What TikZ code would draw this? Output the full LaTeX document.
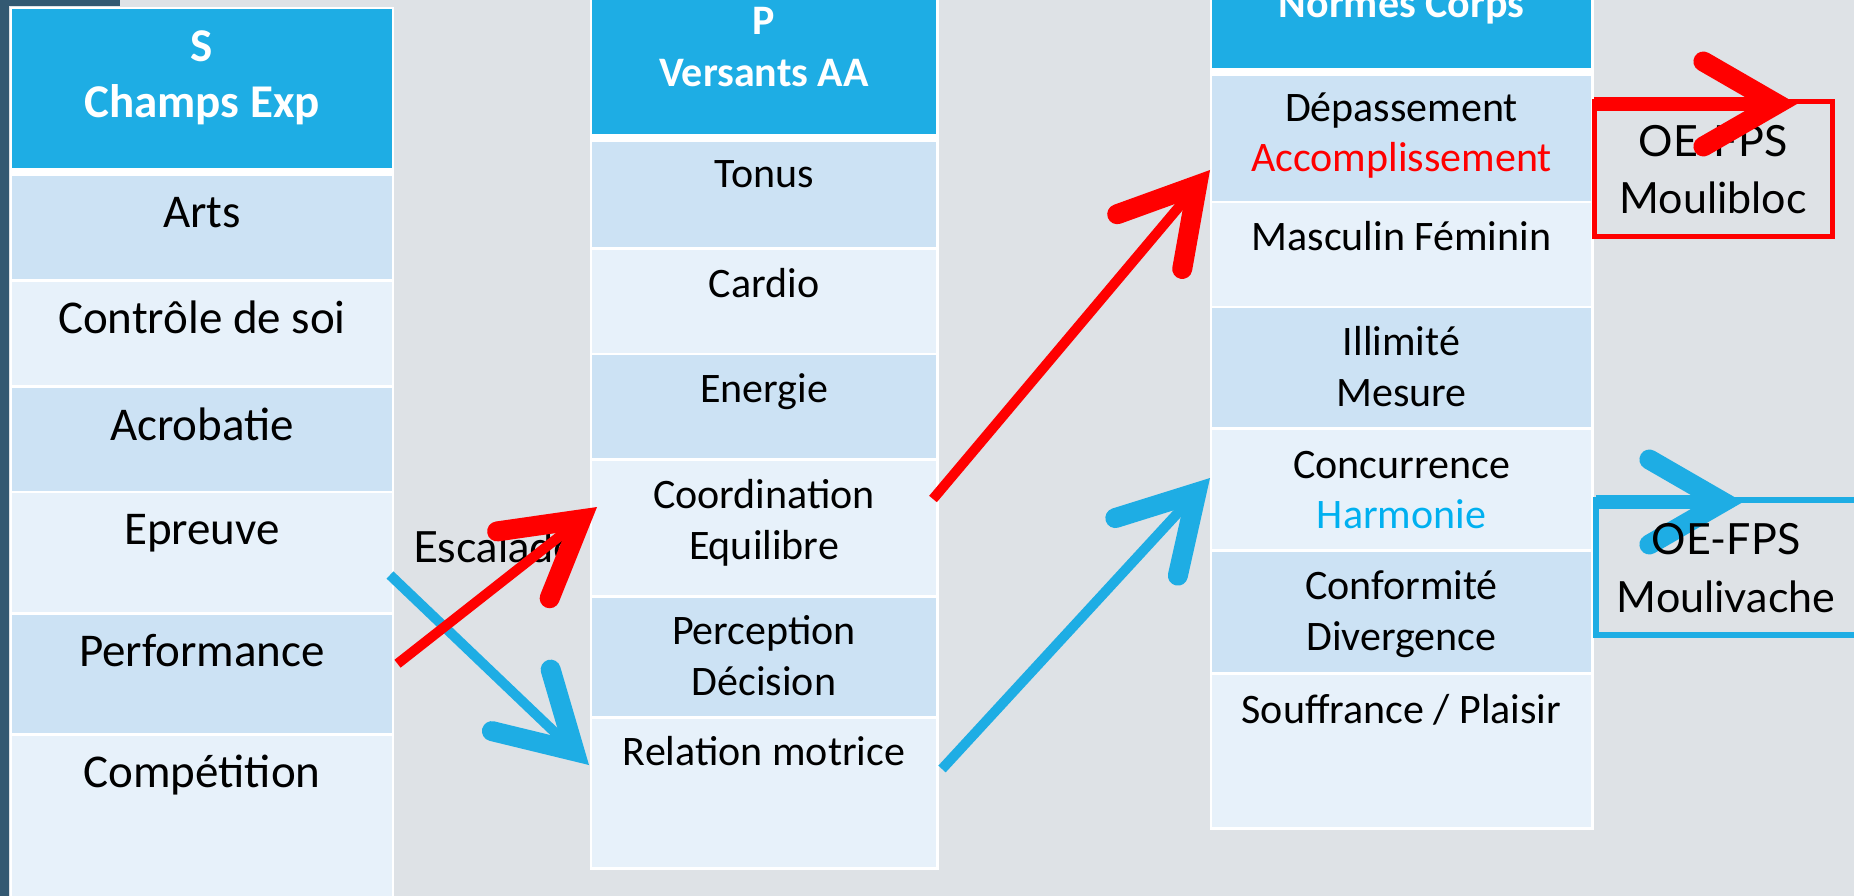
\documentclass[tikz,border=0pt]{standalone}
\usepackage{fontspec}
\setmainfont{Carlito}
\newfontfamily\gillfont{Lato}
\usetikzlibrary{calc,fit}
\definecolor{bg}{RGB}{222,226,230}
\definecolor{darkstrip}{RGB}{51,89,114}
\definecolor{hdrblue}{RGB}{30,173,228}
\definecolor{rowdark}{RGB}{204,226,244}
\definecolor{rowlight}{RGB}{231,241,250}
\definecolor{pptred}{RGB}{255,0,0}
\definecolor{pptblue}{RGB}{30,173,228}
\definecolor{harm}{RGB}{0,176,240}
\newcommand\pptarrow[4]{%
  \coordinate (V) at ($(#3)!20pt!(#2)$);
  \draw[#1, line width=#4] (#2) -- (V);
  \draw[#1, line width=20pt, line cap=round, line join=miter]
    ($(V)!85pt!30:(#2)$) -- (V) -- ($(V)!85pt!-30:(#2)$);
}
\begin{document}
\begin{tikzpicture}[x=1pt,y=-1pt,
  cellbox/.style={inner sep=0pt, outer sep=0pt},
  hdr/.style={cellbox, fill=hdrblue},
  rowA/.style={cellbox, fill=rowdark},
  rowB/.style={cellbox, fill=rowlight},
  frame/.style={cellbox, fill=white},
  ta/.style={anchor=base, inner sep=0pt, font=\fontsize{47}{56}\selectfont},
  tha/.style={ta, text=white, font=\bfseries\fontsize{47}{56}\selectfont},
  tb/.style={anchor=base, inner sep=0pt, font=\fontsize{42}{50}\selectfont},
  thb/.style={tb, text=white, font=\bfseries\fontsize{42}{50}\selectfont},
  gtxt/.style={anchor=base, inner sep=0pt, font={\gillfont\fontsize{43}{50}\selectfont}},
  obox/.style={cellbox, line width=5pt}
]
\useasboundingbox (0,0) rectangle (1854,896);
\clip (0,0) rectangle (1854,896);
\fill[bg] (0,0) rectangle (1854,896);
\fill[darkstrip] (0,0) rectangle (9,896);
\fill[darkstrip] (0,0) rectangle (120,6);

% column 1
\node[frame, fit={(10,7) (394,900)}] (frame1) {};
\node[hdr, fit={(12,9.5) (392,168.5)}] (c1h) {};
\node[rowA, fit={(12,176) (392,279)}] (arts) {};
\node[rowB, fit={(12,281.5) (392,385)}] (ctrl) {};
\node[rowA, fit={(12,388) (392,490.5)}] (acro) {};
\node[rowB, fit={(12,492.5) (392,612)}] (epr) {};
\node[rowA, fit={(12,614.5) (392,733)}] (perf) {};
\node[rowB, fit={(12,735.5) (392,900)}] (comp) {};
\node[tha] (t1a) at (202,62) {S};
\node[tha] (t1b) at (202,118) {Champs Exp};
\node[ta] (tarts) at (202,227) {Arts};
\node[ta] (tctrl) at (202,333) {Contrôle de soi};
\node[ta] (tacro) at (202,440) {Acrobatie};
\node[ta] (tepr) at (202,544) {Epreuve};
\node[ta] (tperf) at (202,666) {Performance};
\node[ta] (tcomp) at (202,787) {Compétition};

% column 2
\node[frame, fit={(589.5,-60) (938.5,869.5)}] (frame2) {};
\node[hdr, fit={(592,-60) (936,134)}] (c2h) {};
\node[rowA, fit={(592,142) (936,247)}] (tonus) {};
\node[rowB, fit={(592,249.5) (936,352.5)}] (cardio) {};
\node[rowA, fit={(592,355) (936,458)}] (energ) {};
\node[rowB, fit={(592,460.5) (936,595)}] (coord) {};
\node[rowA, fit={(592,597.5) (936,716)}] (perc) {};
\node[rowB, fit={(592,718.5) (936,867)}] (rel) {};
\node[thb] (t2a) at (764,35) {P};
\node[thb] (t2b) at (764,87) {Versants AA};
\node[tb] (ttonus) at (764,188) {Tonus};
\node[tb] (tcardio) at (764,297) {Cardio};
\node[tb] (tenerg) at (764,402) {Energie};
\node[tb] (tcoord1) at (764,508) {Coordination};
\node[tb] (tcoord2) at (764,559) {Equilibre};
\node[tb] (tperc1) at (764,644) {Perception};
\node[tb] (tperc2) at (764,695) {Décision};
\node[tb] (trel) at (764,765) {Relation motrice};

% column 3
\node[frame, fit={(1209.5,-60) (1593.5,829.5)}] (frame3) {};
\node[hdr, fit={(1212,-60) (1591,68)}] (c3h) {};
\node[rowA, fit={(1212,76) (1591,201)}] (dep) {};
\node[rowB, fit={(1212,203.5) (1591,305.5)}] (masc) {};
\node[rowA, fit={(1212,308) (1591,427)}] (illi) {};
\node[rowB, fit={(1212,429.5) (1591,549)}] (conc) {};
\node[rowA, fit={(1212,551.5) (1591,672)}] (conf) {};
\node[rowB, fit={(1212,674.5) (1591,827)}] (souf) {};
\node[thb] (t3a) at (1401.5,18) {Normes Corps};
\node[tb] (tdep1) at (1401.5,122) {Dépassement};
\node[tb, text=pptred] (tdep2) at (1401.5,172) {Accomplissement};
\node[tb] (tmasc) at (1401.5,250) {Masculin Féminin};
\node[tb] (tilli1) at (1401.5,355) {Illimité};
\node[tb] (tilli2) at (1401.5,406) {Mesure};
\node[tb] (tconc1) at (1401.5,478) {Concurrence};
\node[tb, text=harm] (tconc2) at (1401.5,528) {Harmonie};
\node[tb] (tconf1) at (1401.5,599) {Conformité};
\node[tb] (tconf2) at (1401.5,650) {Divergence};
\node[tb] (tsouf) at (1401.5,723) {Souffrance / Plaisir};

% OE-FPS boxes
\node[obox, draw=pptred, fit={(1594,102) (1832,236)}] (mbox) {};
\node[gtxt] (mb1) at (1713,157) {OE-FPS};
\node[gtxt] (mb2) at (1713,213) {Moulibloc};
\node[obox, draw=pptblue, line width=5.5pt, fit={(1596,500) (1858,635)}] (vbox) {};

% Escalade label
\node[gtxt, anchor=base west] (esc) at (413,562) {Escalade};

% arrows
\coordinate (bs1) at ($(epr.east)+(-2,22.75)$);
\coordinate (bt1) at ($(rel.west)+(-3,-27.75)$);
\pptarrow{pptblue}{bs1}{bt1}{10pt}
\coordinate (rs1) at ($(perf.east)+(5.5,-10)$);
\coordinate (rt1) at ($(coord.west)+(5,-20.75)$);
\pptarrow{pptred}{rs1}{rt1}{10pt}
\coordinate (rs2) at ($(coord.east)+(-3,-28.75)$);
\coordinate (rt2) at ($(dep.west)+(-2,31.5)$);
\pptarrow{pptred}{rs2}{rt2}{10pt}
\coordinate (bs2) at ($(rel.east)+(6,-23.75)$);
\coordinate (bt2) at ($(conc.west)+(-2,-11.25)$);
\pptarrow{pptblue}{bs2}{bt2}{10pt}
\coordinate (rs3) at ($(mbox.north west)+(0,2)$);
\coordinate (rt3) at ($(mbox.north west)+(203,2)$);
\pptarrow{pptred}{rs3}{rt3}{14pt}
\coordinate (bs3) at ($(vbox.north west)+(0,2)$);
\coordinate (bt3) at ($(vbox.north west)+(147,2)$);
\pptarrow{pptblue}{bs3}{bt3}{14pt}

\node[gtxt] (mv1) at (1726,554) {OE-FPS};
\node[gtxt] (mv2) at (1726,612) {Moulivache};
\end{tikzpicture}
\end{document}
